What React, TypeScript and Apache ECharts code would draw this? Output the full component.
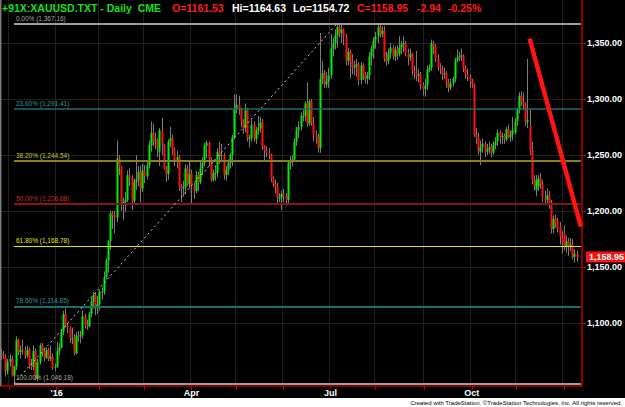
import React, { useEffect, useRef } from 'react';
import * as echarts from 'echarts';

// ---- DATA: daily bars [open, high, low, close] ----
const nov2015 = [[1073,1077,1067,1071],[1071,1075,1068,1070],[1070,1072,1052,1057],[1057,1068,1054,1065]];
const dec2015 = [[1065,1072,1061,1068],[1068,1071,1052,1053],[1053,1062,1046.18,1061],[1061,1088,1058,1085],[1085,1086,1071,1074],[1074,1080,1068,1076],[1076,1085,1072,1075],[1075,1079,1068,1071],[1071,1080,1069,1076],[1076,1078,1059,1062],[1062,1068,1058,1061],[1061,1080,1058,1075],[1075,1077,1049,1050],[1050,1068,1048,1065],[1065,1082,1063,1080],[1080,1082,1070,1074],[1074,1078,1066,1069],[1069,1078,1068,1076],[1076,1078,1066,1068],[1068,1080,1066,1070],[1070,1073,1058,1060],[1060,1064,1057,1061]];
const jan2016 = [[1061,1083,1060,1075],[1075,1082,1071,1078],[1078,1095,1077,1092],[1092,1111,1089,1108],[1108,1113,1096,1098],[1098,1100,1091,1096],[1096,1097,1082,1086],[1086,1096,1081,1086],[1086,1090,1071,1073],[1073,1092,1072,1089],[1089,1093,1083,1088],[1088,1093,1082,1089],[1089,1111,1086,1106],[1106,1108,1095,1098],[1098,1103,1094,1097],[1097,1110,1096,1108],[1108,1123,1105,1119],[1119,1128,1113,1125],[1125,1127,1107,1114],[1114,1124,1108,1117]];
const feb2016 = [[1117,1130,1111,1128],[1128,1132,1121,1128],[1128,1146,1125,1141],[1141,1158,1139,1156],[1156,1174,1145,1173],[1173,1200,1165,1198],[1198,1200,1184,1196],[1196,1200,1180,1194],[1194,1263,1190,1247],[1247,1250,1232,1239],[1239,1240,1200,1208],[1208,1212,1192,1208],[1208,1217,1199,1210],[1210,1236,1208,1232],[1232,1238,1222,1230],[1230,1232,1201,1209],[1209,1229,1206,1226],[1226,1250,1219,1228],[1228,1240,1222,1235],[1235,1240,1208,1220],[1220,1242,1217,1236]];
const mar2016 = [[1236,1241,1225,1231],[1231,1245,1228,1241],[1241,1263,1238,1259],[1259,1280,1253,1270],[1270,1278,1258,1263],[1263,1270,1255,1263],[1263,1265,1248,1257],[1253,1274,1240,1272],[1272,1283,1250,1259],[1259,1260,1237,1238],[1238,1240,1226,1233],[1233,1264,1228,1262],[1262,1275,1257,1265],[1265,1268,1250,1255],[1255,1257,1240,1245],[1245,1254,1238,1248],[1248,1250,1218,1222],[1222,1224,1208,1220],[1220,1227,1213,1221],[1221,1242,1215,1238],[1238,1241,1222,1224],[1224,1244,1220,1233]];
const apr2016 = [[1233,1237,1207,1222],[1222,1225,1211,1218],[1218,1236,1216,1232],[1232,1235,1218,1226],[1226,1244,1224,1238],[1238,1248,1232,1243],[1243,1261,1240,1258],[1258,1263,1247,1261],[1261,1262,1240,1246],[1246,1248,1226,1228],[1228,1237,1226,1234],[1234,1241,1227,1234],[1234,1256,1230,1253],[1253,1262,1242,1250],[1250,1260,1244,1250],[1250,1252,1228,1232],[1232,1240,1227,1237],[1237,1246,1232,1243],[1243,1252,1238,1250],[1250,1268,1240,1266],[1266,1304,1264,1292]];
const may2016 = [[1292,1304,1287,1295],[1295,1303,1286,1290],[1290,1292,1275,1280],[1280,1282,1269,1274],[1274,1296,1270,1290],[1290,1292,1262,1265],[1265,1268,1257,1265],[1265,1282,1262,1277],[1277,1280,1262,1264],[1264,1275,1260,1272],[1272,1285,1268,1274],[1274,1284,1270,1279],[1279,1282,1255,1258],[1258,1259,1245,1254],[1254,1258,1248,1252],[1252,1256,1246,1250],[1250,1251,1226,1229],[1229,1231,1221,1224],[1224,1228,1216,1222],[1222,1225,1206,1212],[1212,1216,1208,1212],[1212,1218,1201,1215]];
const jun2016 = [[1215,1220,1208,1214],[1214,1216,1205,1210],[1210,1245,1207,1243],[1243,1249,1237,1244],[1244,1250,1240,1246],[1246,1265,1244,1262],[1262,1275,1258,1272],[1272,1280,1265,1275],[1275,1288,1272,1285],[1285,1290,1280,1285],[1285,1298,1280,1296],[1296,1315,1275,1278],[1278,1300,1276,1298],[1298,1300,1276,1279],[1279,1284,1262,1268],[1268,1272,1260,1266],[1266,1269,1252,1256],[1256,1359,1252,1318],[1318,1334,1313,1323],[1323,1326,1310,1313],[1313,1324,1310,1316],[1316,1328,1310,1321]];
const jul2016 = [[1321,1358,1318,1345],[1345,1355,1338,1350],[1350,1362,1344,1357],[1357,1367.16,1346,1364],[1364,1366,1355,1359],[1359,1366,1350,1362],[1362,1363,1348,1356],[1356,1358,1330,1334],[1334,1346,1330,1342],[1342,1344,1318,1333],[1333,1340,1322,1328],[1328,1334,1321,1329],[1329,1336,1320,1331],[1331,1333,1312,1317],[1317,1333,1313,1330],[1330,1332,1317,1322],[1322,1324,1314,1318],[1318,1324,1313,1321],[1321,1342,1317,1338],[1338,1348,1330,1345],[1345,1355,1336,1352]];
const aug2016 = [[1352,1360,1345,1356],[1356,1366,1350,1364],[1364,1366,1355,1358],[1358,1365,1355,1361],[1361,1365,1333,1336],[1336,1342,1330,1334],[1334,1345,1331,1341],[1341,1350,1336,1346],[1346,1348,1335,1338],[1338,1347,1334,1344],[1344,1348,1335,1340],[1340,1356,1338,1346],[1346,1352,1340,1349],[1349,1356,1342,1350],[1350,1352,1338,1341],[1341,1345,1330,1337],[1337,1345,1334,1340],[1340,1341,1321,1325],[1325,1330,1318,1323],[1323,1343,1316,1321],[1321,1327,1315,1322],[1322,1324,1308,1312],[1312,1315,1303,1309]];
const sep2016 = [[1309,1318,1302,1312],[1312,1330,1308,1326],[1326,1331,1324,1328],[1328,1353,1325,1350],[1350,1352,1340,1347],[1347,1349,1333,1336],[1336,1340,1325,1328],[1328,1332,1322,1327],[1327,1330,1317,1322],[1322,1328,1318,1323],[1323,1325,1310,1315],[1315,1318,1306,1310],[1310,1318,1308,1314],[1314,1320,1311,1318],[1318,1337,1315,1335],[1335,1344,1333,1337],[1337,1342,1334,1338],[1338,1345,1334,1339],[1339,1340,1324,1327],[1327,1330,1318,1322],[1322,1327,1316,1320],[1320,1322,1310,1316]];
const oct2016 = [[1316,1318,1310,1313],[1313,1314,1266,1268],[1268,1274,1260,1266],[1266,1270,1250,1253],[1253,1263,1241,1257],[1257,1265,1252,1260],[1260,1262,1248,1253],[1253,1260,1250,1255],[1255,1262,1251,1257],[1257,1260,1248,1252],[1252,1262,1250,1259],[1259,1266,1255,1262],[1262,1273,1258,1270],[1270,1272,1260,1266],[1266,1270,1260,1267],[1267,1269,1260,1264],[1264,1275,1262,1273],[1273,1277,1265,1266],[1266,1272,1262,1268],[1268,1284,1263,1272],[1270,1283,1268,1280]];
const nov2016 = [[1280,1292,1276,1290],[1290,1306,1287,1303],[1303,1307,1294,1297],[1297,1306,1290,1295],[1295,1297,1276,1280],[1279,1336,1274,1281],[1276,1290,1250,1254],[1254,1262,1224,1228],[1228,1232,1218,1222],[1219,1232,1213,1228],[1222,1232,1218,1229],[1229,1234,1220,1224],[1224,1228,1208,1212],[1212,1218,1205,1210],[1210,1220,1206,1214],[1214,1218,1202,1206],[1206,1210,1180,1184],[1184,1196,1180,1193],[1193,1197,1185,1189],[1191,1194,1181,1184],[1186,1190,1170,1177],[1177,1182,1162,1172]];
const dec2016 = [[1180,1187,1165,1168],[1168,1178,1163,1173],[1173,1176,1160,1168],[1168,1176,1164,1170],[1170,1175,1157,1159],[1159,1166,1154,1161.89],[1161.53,1164.63,1154.72,1158.95]];

const FIRST_DAY = '2015-11-25';
const LAST_DAY = '2016-12-09';
const HOLIDAYS = ['2015-12-25', '2016-01-01', '2016-03-25'];
const PAD_SLOTS = ['pad1', 'pad2'];

const Y_TICKS = [1100, 1150, 1200, 1250, 1300, 1350];
const QUARTER_LABELS: Record<string, string> = { '01': "'16", '04': 'Apr', '07': 'Jul', '10': 'Oct' };

const FIB_PCT = ['0.00%', '23.60%', '38.20%', '50.00%', '61.80%', '78.60%', '100.00%'];
const FIB_VALUES = [1367.16, 1291.41, 1244.54, 1206.68, 1168.78, 1114.85, 1046.18];
const FIB_LINE_COLORS = ['#9c9c9c', '#176f6f', '#84841a', '#861616', '#e6e600', '#176f6f', '#9c9c9c'];
const FIB_LABEL_COLORS = ['#a8a8a8', '#2a9c9c', '#c8c828', '#cc2a2a', '#e6e600', '#2a9c9c', '#a8a8a8'];
const FIB_WIDTHS = [2, 1.5, 2, 2, 1.2, 2, 2];

// red down-trend line: [category index, price]
const TREND_START = [247, 1354];
const TREND_END = [271, 1186];

const FONT = '"Liberation Sans", Arial, sans-serif';

function buildDates(): string[] {
  const out: string[] = [];
  const hol = new Set(HOLIDAYS);
  let t = Date.parse(FIRST_DAY + 'T00:00:00Z');
  const end = Date.parse(LAST_DAY + 'T00:00:00Z');
  while (t <= end) {
    const d = new Date(t);
    const wd = d.getUTCDay();
    const s = d.toISOString().slice(0, 10);
    if (wd !== 0 && wd !== 6 && !hol.has(s)) out.push(s);
    t += 86400000;
  }
  return out;
}

const fmt = (v: number) => v.toLocaleString('en-US', { minimumFractionDigits: 2, maximumFractionDigits: 2 });

export default function App() {
  const ref = useRef<HTMLDivElement>(null);
  useEffect(() => {
    const el = ref.current;
    if (!el) return;
    const chart = echarts.init(el, null, { renderer: 'svg', width: 625, height: 407 });

    const bars = [...nov2015, ...dec2015, ...jan2016, ...feb2016, ...mar2016, ...apr2016, ...may2016, ...jun2016, ...jul2016, ...aug2016, ...sep2016, ...oct2016, ...nov2016, ...dec2016];
    const dates = buildDates().slice(0, bars.length);
    const cats = [...dates, ...PAD_SLOTS];
    const monthStart = new Set<number>();
    const labelIdx = new Set<number>();
    for (let i = 1; i < dates.length; i++) {
      if (dates[i].slice(0, 7) !== dates[i - 1].slice(0, 7)) {
        monthStart.add(i);
        if (QUARTER_LABELS[dates[i].slice(5, 7)]) labelIdx.add(i);
      }
    }
    let lowIdx = 0, highIdx = 0;
    bars.forEach((b, i) => {
      if (b[2] < bars[lowIdx][2]) lowIdx = i;
      if (b[1] > bars[highIdx][1]) highIdx = i;
    });
    const lastCat = cats.length - 1;

    const candleData = bars.map((b, i) => [i, b[0], b[1], b[2], b[3]]);

    const renderItem = (params: any, api: any) => {
      const i = api.value(0);
      const o = api.value(1), h = api.value(2), l = api.value(3), c = api.value(4);
      const p = api.coord([i, o]);
      const x = Math.round(p[0]);
      const yo = p[1];
      const yc = api.coord([i, c])[1];
      const yh = api.coord([i, h])[1];
      const yl = api.coord([i, l])[1];
      const top = Math.min(yo, yc);
      const hh = Math.max(1, Math.abs(yo - yc));
      return {
        type: 'group',
        children: [
          { type: 'line', shape: { x1: x + 0.5, y1: yh, x2: x + 0.5, y2: yl }, style: { stroke: '#7c7c7c', lineWidth: 1 } },
          { type: 'rect', shape: { x: x - 0.5, y: top, width: 2, height: hh }, style: { fill: c >= o ? '#00f000' : '#ff1010' } },
        ],
      };
    };

    const fibLines = FIB_VALUES.map((v, k) => [
      {
        coord: [lowIdx, v],
        lineStyle: { color: FIB_LINE_COLORS[k], width: FIB_WIDTHS[k], type: 'solid' },
        label: {
          show: true, position: 'insideStartTop', distance: 2,
          formatter: `${FIB_PCT[k]} (${fmt(v)})`,
          color: FIB_LABEL_COLORS[k], fontSize: 6.5, fontFamily: FONT,
        },
      },
      { coord: [lastCat, v] },
    ]);
    const diag = [
      { coord: [lowIdx, bars[lowIdx][2]], lineStyle: { color: '#c8c8c8', width: 1, type: [2, 3] }, label: { show: false } },
      { coord: [highIdx, bars[highIdx][1]] },
    ];

    chart.setOption({
      animation: false,
      backgroundColor: '#000',
      grid: { left: 0, right: 42, top: 0, bottom: 21, containLabel: false },
      xAxis: {
        type: 'category', data: cats, boundaryGap: true,
        axisLine: { show: true, onZero: false, lineStyle: { color: '#b00000', width: 1.5 } },
        axisTick: { show: true, alignWithLabel: true, interval: (i: number) => monthStart.has(i), length: 4, lineStyle: { color: '#c00000' } },
        axisLabel: {
          interval: (i: number) => labelIdx.has(i),
          formatter: (v: string) => QUARTER_LABELS[String(v).slice(5, 7)] || '',
          color: '#ffffff', fontWeight: 'bold', fontSize: 9, fontFamily: FONT, margin: 2,
        },
        splitLine: { show: true, interval: (i: number) => monthStart.has(i), lineStyle: { color: '#1f1f1f', width: 1 } },
      },
      yAxis: {
        type: 'value', position: 'right', min: 1043.75, max: 1388.39,
        axisLine: { show: true, onZero: false, lineStyle: { color: '#8b0000', width: 2 } },
        axisTick: { show: true, customValues: Y_TICKS, length: 4, lineStyle: { color: '#c00000' } },
        axisLabel: { customValues: Y_TICKS, formatter: (v: number) => fmt(v), color: '#ffffff', fontWeight: 'bold', fontSize: 9, fontFamily: FONT, margin: 5 },
        splitLine: { show: false },
      },
      series: [
        {
          type: 'line', data: [], silent: true, z: 1,
          markLine: { silent: true, z: 1, symbol: ['none', 'none'], label: { show: false }, lineStyle: { color: '#1f1f1f', type: 'solid', width: 1 }, data: Y_TICKS.map((v) => ({ yAxis: v })) },
        },
        { type: 'custom', z: 2, renderItem, data: candleData, encode: { x: 0, y: [1, 2, 3, 4] }, silent: true },
        {
          type: 'line', data: [], silent: true, z: 3,
          markLine: { silent: true, z: 5, symbol: ['none', 'none'], data: [...fibLines, diag] },
        },
        {
          type: 'line', data: [], silent: true, z: 4,
          markLine: {
            silent: true, z: 6, symbol: ['none', 'none'],
            data: [[
              { coord: TREND_START, lineStyle: { color: '#ff1414', width: 4.5, type: 'solid', cap: 'butt' }, label: { show: false } },
              { coord: TREND_END },
            ]],
          },
        },
      ],
    });

    const last = bars[bars.length - 1];
    const prev = bars[bars.length - 2];
    const chg = last[3] - prev[3];
    const pct = (chg / prev[3]) * 100;
    const tagY = chart.convertToPixel({ yAxisIndex: 0 }, last[3]) as number;
    const RED = '#ff1a1a';
    const titleParts: [string, string, number][] = [
      ['+91X:XAUUSD.TXT - Daily  CME', '#18e018', 2],
      [`O=${last[0].toFixed(2)}`, RED, 172],
      [`Hi=${last[1].toFixed(2)}`, '#ffffff', 232],
      [`Lo=${last[2].toFixed(2)}`, '#ffffff', 293],
      [`C=${last[3].toFixed(2)}`, RED, 357],
      [`${chg.toFixed(2)}`, RED, 417],
      [`${pct.toFixed(2)}%`, RED, 448],
    ];
    const txt = (x: number, y: number, text: string, fill: string, font: string, align = 'left', z = 10) => ({
      type: 'text', x, y, z, silent: true,
      style: { text, fill, font, align, textAlign: align, verticalAlign: 'middle', textVerticalAlign: 'middle' },
    });
    chart.setOption({
      graphic: [
        { type: 'rect', x: 0, y: 0, z: 10, silent: true, shape: { x: 0, y: 0, width: 1.5, height: 386 }, style: { fill: '#7a7a7a' } },
        { type: 'rect', x: 0, y: 0, z: 10, silent: true, shape: { x: 0, y: 398, width: 625, height: 9 }, style: { fill: '#ffffff' } },
        txt(622, 403, 'Created with TradeStation. ©TradeStation Technologies, Inc. All rights reserved.', '#000000', `6px ${FONT}`, 'right'),
        ...titleParts.map(([t, c, x]) => txt(x, 7.5, t, c, `bold 10.5px ${FONT}`)),
        { type: 'rect', x: 0, y: 0, z: 10, silent: true, shape: { x: 586, y: tagY - 5.5, width: 39, height: 11 }, style: { fill: '#ff1010' } },
        txt(589, tagY, fmt(last[3]), '#ffffff', `bold 9px ${FONT}`),
      ],
    });

    return () => chart.dispose();
  }, []);
  return <div ref={ref} style={{ position: 'absolute', left: 0, top: 0, width: 625, height: 407 }} />;
}
